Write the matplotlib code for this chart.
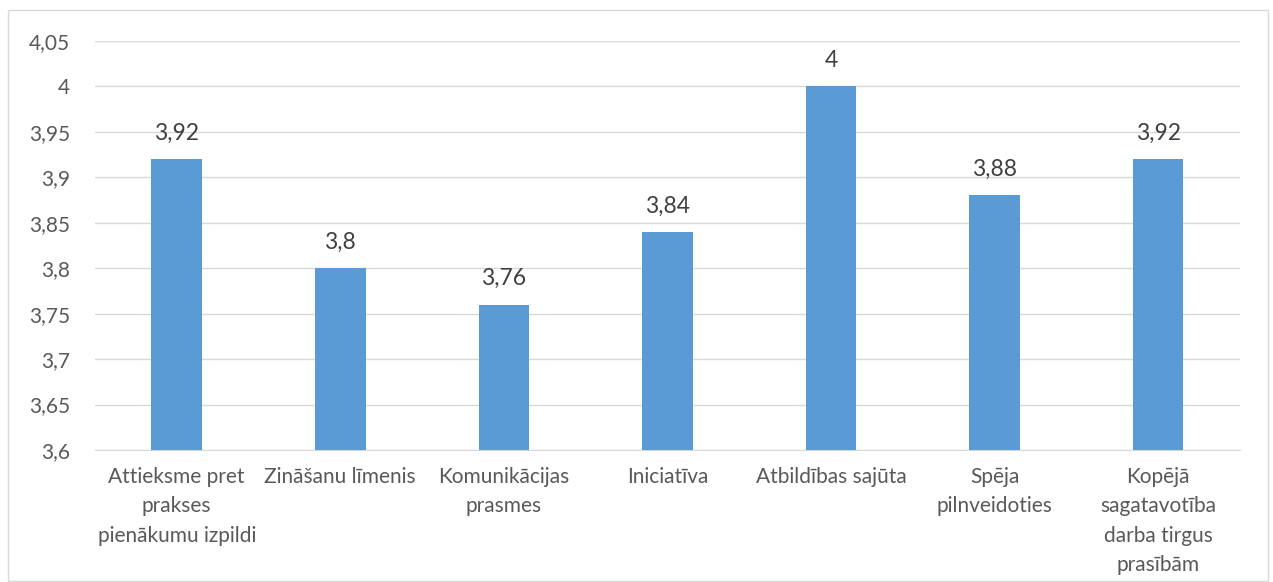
import matplotlib.pyplot as plt
from matplotlib.patches import Rectangle

categories = ["Attieksme pret\nprakses\npienākumu izpildi", "Zināšanu līmenis",
              "Komunikācijas\nprasmes", "Iniciatīva", "Atbildības sajūta",
              "Spēja\npilnveidoties", "Kopējā\nsagatavotība\ndarba tirgus\nprasībām"]
values = [3.92, 3.8, 3.76, 3.84, 4.0, 3.88, 3.92]
yticks = [3.6, 3.65, 3.7, 3.75, 3.8, 3.85, 3.9, 3.95, 4.0, 4.05]

plt.rcParams['font.family'] = ['Lato', 'DejaVu Sans']
txt = "#595959"

fig = plt.figure(figsize=(12.73, 5.82), dpi=100)
ax = fig.add_axes([0.0746, 0.2268, 0.8994, 0.7028])
fig.patches.append(Rectangle((8/1273, 0.002), 1260/1273, 1 - 10/582 - 0.002,
                             transform=fig.transFigure, fill=False,
                             edgecolor="#D9D9D9", linewidth=1))

x = range(len(categories))
ax.bar(x, values, width=0.31, color="#5B9BD5", zorder=3)
for xi, v in zip(x, values):
    ax.text(xi, v + 0.017, ("%g" % v).replace(".", ","), ha="center", va="bottom",
            fontsize=16.5, color="#404040")

ax.set_ylim(3.6, 4.05)
ax.set_xlim(-0.5, len(categories) - 0.5)
ax.set_yticks(yticks)
ax.set_yticklabels([("%g" % t).replace(".", ",") for t in yticks])
ax.set_xticks(list(x))
ax.set_xticklabels(categories, linespacing=1.6)
ax.tick_params(axis="both", length=0, labelsize=15, labelcolor=txt)
ax.tick_params(axis="y", pad=18)
ax.tick_params(axis="x", pad=12)
ax.grid(axis="y", color="#D9D9D9", linewidth=1, zorder=0)
for s in ["top", "right", "left"]:
    ax.spines[s].set_visible(False)
ax.spines["bottom"].set_color("#D9D9D9")

plt.savefig("out.png")
plt.close()
